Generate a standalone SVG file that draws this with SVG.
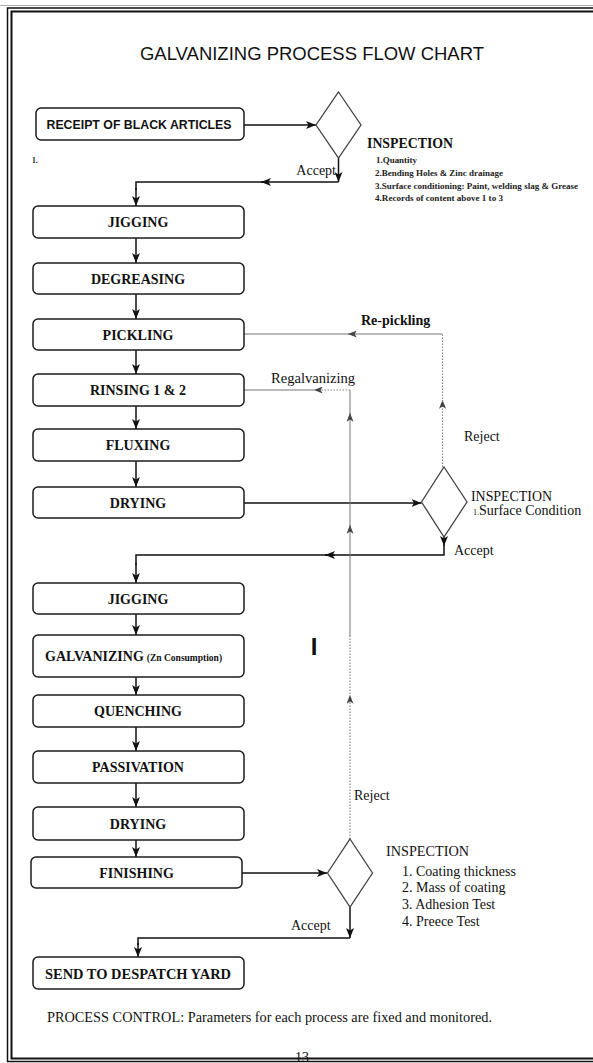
<svg xmlns="http://www.w3.org/2000/svg" width="593" height="1063" viewBox="0 0 593 1063">
  <style>
    .box { fill: #fff; stroke: #1c1c1c; stroke-width: 1.5; }
    .dia { fill: #fff; stroke: #444; stroke-width: 1.3; }
    .lbl { font-family: "Liberation Serif", "Times New Roman", serif; font-weight: bold; font-size: 14px; fill: #111; text-anchor: middle; }
    .lbl-start { font-family: "Liberation Serif", "Times New Roman", serif; font-weight: bold; font-size: 14px; fill: #111; text-anchor: start; }
    .note { font-family: "Liberation Serif", "Times New Roman", serif; font-size: 14px; fill: #111; }
    .small { font-family: "Liberation Serif", "Times New Roman", serif; font-weight: bold; font-size: 7.5px; fill: #222; }
    .flow { stroke: #111; stroke-width: 1.5; fill: none; }
    .fb { stroke: #777; stroke-width: 1; fill: none; }
    .dot { stroke: #888; stroke-width: 1.2; stroke-dasharray: 1.5 1.5; fill: none; }
    .frame { stroke: #111; fill: none; }
  </style>
  <defs>
    <marker id="ah" viewBox="0 0 10 8" refX="10" refY="4" markerWidth="10" markerHeight="8" markerUnits="userSpaceOnUse" orient="auto">
      <path d="M0,0 L10,4 L0,8 L2.5,4 z" fill="#111"/>
    </marker>
    <marker id="ahg" viewBox="0 0 10 8" refX="10" refY="4" markerWidth="10" markerHeight="7" markerUnits="userSpaceOnUse" orient="auto">
      <path d="M0,0 L10,4 L0,8 L2.5,4 z" fill="#444"/>
    </marker>
  </defs>

  <rect width="593" height="1063" fill="#fff"/>

  <!-- page title -->
  <text x="312" y="60" font-family="'Liberation Sans', Arial, sans-serif" font-size="18" fill="#111" text-anchor="middle" textLength="344" lengthAdjust="spacingAndGlyphs">GALVANIZING PROCESS FLOW CHART</text>

  <!-- connectors -->
  <g id="connectors">
    <!-- receipt to first inspection -->
    <line class="flow" x1="244" y1="125" x2="316" y2="125" marker-end="url(#ah)"/>
    <line class="flow" x1="338.5" y1="158" x2="338.5" y2="182" marker-end="url(#ah)"/>
    <line class="flow" x1="338.5" y1="182" x2="261" y2="182" marker-end="url(#ah)"/>
    <polyline class="flow" points="264,182 136,182 136,190"/>
    <line class="flow" x1="136" y1="188" x2="136" y2="206" marker-end="url(#ah)"/>
    <!-- main column, first half -->
    <line class="flow" x1="136" y1="238" x2="136" y2="263" marker-end="url(#ah)"/>
    <line class="flow" x1="136" y1="294" x2="136" y2="319" marker-end="url(#ah)"/>
    <line class="flow" x1="136" y1="350" x2="136" y2="374" marker-end="url(#ah)"/>
    <line class="flow" x1="136" y1="406" x2="136" y2="429" marker-end="url(#ah)"/>
    <line class="flow" x1="136" y1="461" x2="136" y2="487" marker-end="url(#ah)"/>
    <!-- drying to surface inspection -->
    <line class="flow" x1="244" y1="503" x2="421.5" y2="503" marker-end="url(#ah)"/>
    <line class="flow" x1="444" y1="535" x2="444" y2="546" marker-end="url(#ah)"/>
    <polyline class="flow" points="444,545 444,555 325,555"/>
    <line class="flow" x1="335" y1="555" x2="325" y2="555" marker-end="url(#ah)"/>
    <polyline class="flow" points="327,555 136,555 136,565"/>
    <line class="flow" x1="136" y1="563" x2="136" y2="583" marker-end="url(#ah)"/>
    <!-- main column, second half -->
    <line class="flow" x1="136" y1="614" x2="136" y2="635" marker-end="url(#ah)"/>
    <line class="flow" x1="136" y1="677" x2="136" y2="695" marker-end="url(#ah)"/>
    <line class="flow" x1="136" y1="727" x2="136" y2="751" marker-end="url(#ah)"/>
    <line class="flow" x1="136" y1="783" x2="136" y2="807" marker-end="url(#ah)"/>
    <line class="flow" x1="136" y1="840" x2="136" y2="857" marker-end="url(#ah)"/>
    <!-- finishing to final inspection -->
    <line class="flow" x1="242" y1="873" x2="327" y2="873" marker-end="url(#ah)"/>
    <line class="flow" x1="350" y1="907" x2="350" y2="938" marker-end="url(#ah)"/>
    <polyline class="flow" points="350,938 138,938 138,945"/>
    <line class="flow" x1="138" y1="943" x2="138" y2="957" marker-end="url(#ah)"/>

    <!-- re-pickling return -->
    <line class="dot" x1="442.5" y1="467" x2="442.5" y2="400" marker-end="url(#ahg)"/>
    <line class="dot" x1="442.5" y1="402" x2="442.5" y2="334"/>
    <line class="fb" x1="442.5" y1="334" x2="348" y2="334" marker-end="url(#ahg)"/>
    <line class="fb" x1="350" y1="334" x2="244" y2="334"/>

    <!-- regalvanizing return -->
    <line class="dot" x1="350" y1="839" x2="350" y2="695" marker-end="url(#ahg)"/>
    <line class="dot" x1="350" y1="697" x2="350" y2="635"/>
    <line class="fb" x1="350" y1="636" x2="350" y2="525" marker-end="url(#ahg)"/>
    <line class="fb" x1="350" y1="527" x2="350" y2="413" marker-end="url(#ahg)"/>
    <line class="fb" x1="350" y1="415" x2="350" y2="390"/>
    <line class="dot" x1="350" y1="390" x2="314" y2="390" marker-end="url(#ahg)"/>
    <line class="fb" x1="316" y1="390" x2="244" y2="390"/>
  </g>

  <!-- receipt -->
  <g id="n-receipt">
    <rect class="box" x="36" y="108" width="208" height="32" rx="5"/>
    <text x="139" y="129" font-family="'Liberation Sans', Arial, sans-serif" font-weight="bold" font-size="12.5" fill="#111" text-anchor="middle" textLength="185" lengthAdjust="spacingAndGlyphs">RECEIPT OF BLACK ARTICLES</text>
  </g>
  <text class="small" x="32" y="163">1.</text>

  <!-- incoming inspection -->
  <g id="n-inspect-1">
    <polygon class="dia" points="338.5,92 361,125 338.5,158 316,125"/>
    <text x="367" y="148" font-family="'Liberation Serif', 'Times New Roman', serif" font-weight="bold" font-size="15" fill="#111" textLength="86" lengthAdjust="spacingAndGlyphs">INSPECTION</text>
    <text class="small" x="376" y="163" textLength="41" lengthAdjust="spacingAndGlyphs">1.Quantity</text>
    <text class="small" x="375" y="176" textLength="128" lengthAdjust="spacingAndGlyphs">2.Bending Holes &amp; Zinc drainage</text>
    <text class="small" x="375" y="189" textLength="203" lengthAdjust="spacingAndGlyphs">3.Surface conditioning: Paint, welding slag &amp; Grease</text>
    <text class="small" x="375" y="201" textLength="128" lengthAdjust="spacingAndGlyphs">4.Records of content above 1 to 3</text>
  </g>
  <text class="note" x="336" y="175" text-anchor="end">Accept</text>

  <g id="n-jigging-1">
    <rect class="box" x="33" y="206" width="211" height="32" rx="5"/>
    <text class="lbl" x="138" y="227">JIGGING</text>
  </g>
  <g id="n-degreasing">
    <rect class="box" x="33" y="263" width="211" height="31" rx="5"/>
    <text class="lbl" x="138" y="283.5">DEGREASING</text>
  </g>
  <g id="n-pickling">
    <rect class="box" x="33" y="319" width="211" height="31" rx="5"/>
    <text class="lbl" x="138" y="339.5">PICKLING</text>
  </g>
  <g id="n-rinsing">
    <rect class="box" x="33" y="374" width="211" height="32" rx="5"/>
    <text class="lbl" x="138" y="395">RINSING 1 &amp; 2</text>
  </g>
  <g id="n-fluxing">
    <rect class="box" x="33" y="429" width="211" height="32" rx="5"/>
    <text class="lbl" x="138" y="450">FLUXING</text>
  </g>
  <g id="n-drying-1">
    <rect class="box" x="33" y="487" width="211" height="31" rx="5"/>
    <text class="lbl" x="138" y="507.5">DRYING</text>
  </g>

  <!-- surface inspection -->
  <g id="n-inspect-2">
    <polygon class="dia" points="444,467 467,502 444,537 421.5,502"/>
    <text class="note" x="471" y="501" textLength="81" lengthAdjust="spacingAndGlyphs">INSPECTION</text>
    <text class="note" x="473" y="515" font-size="12"><tspan font-size="8">1.</tspan>Surface Condition</text>
  </g>
  <text class="note" x="454" y="555">Accept</text>
  <text class="note" x="464" y="441">Reject</text>
  <text x="361" y="325" font-family="'Liberation Serif', 'Times New Roman', serif" font-weight="bold" font-size="14" fill="#111">Re-pickling</text>
  <text class="note" x="271" y="383" textLength="84" lengthAdjust="spacingAndGlyphs">Regalvanizing</text>

  <g id="n-jigging-2">
    <rect class="box" x="33" y="583" width="211" height="31" rx="5"/>
    <text class="lbl" x="138" y="603.5">JIGGING</text>
  </g>
  <g id="n-galvanizing">
    <rect class="box" x="33" y="635" width="211" height="42" rx="5"/>
    <text class="lbl-start" x="45" y="661">GALVANIZING<tspan font-size="9.5" dx="3">(Zn Consumption)</tspan></text>
  </g>
  <g id="n-quenching">
    <rect class="box" x="33" y="695" width="211" height="32" rx="5"/>
    <text class="lbl" x="138" y="716">QUENCHING</text>
  </g>
  <g id="n-passivation">
    <rect class="box" x="33" y="751" width="211" height="32" rx="5"/>
    <text class="lbl" x="138" y="772">PASSIVATION</text>
  </g>
  <g id="n-drying-2">
    <rect class="box" x="33" y="807" width="211" height="33" rx="5"/>
    <text class="lbl" x="138" y="828.5">DRYING</text>
  </g>
  <g id="n-finishing">
    <rect class="box" x="31" y="857" width="211" height="31" rx="5"/>
    <text class="lbl" x="136.5" y="877.5">FINISHING</text>
  </g>

  <text x="314" y="655" font-family="'Liberation Sans', Arial, sans-serif" font-weight="bold" font-size="24" fill="#111" text-anchor="middle">I</text>
  <text class="note" x="354" y="800">Reject</text>

  <!-- final inspection -->
  <g id="n-inspect-3">
    <polygon class="dia" points="350,839 372.5,873 350,907 327.5,873"/>
    <text class="note" x="386" y="856" textLength="83" lengthAdjust="spacingAndGlyphs">INSPECTION</text>
    <text class="note" x="402" y="876" font-size="13">1. Coating thickness</text>
    <text class="note" x="402" y="892" font-size="13">2. Mass of coating</text>
    <text class="note" x="402" y="909" font-size="13">3. Adhesion Test</text>
    <text class="note" x="402" y="926" font-size="13">4. Preece Test</text>
  </g>
  <text class="note" x="291" y="930">Accept</text>

  <g id="n-despatch">
    <rect class="box" x="33" y="957" width="211" height="32" rx="5"/>
    <text class="lbl" x="138" y="979" textLength="186" lengthAdjust="spacingAndGlyphs">SEND TO DESPATCH YARD</text>
  </g>

  <text class="note" x="47" y="1022" font-size="13" textLength="445" lengthAdjust="spacingAndGlyphs">PROCESS  CONTROL: Parameters for each process are fixed and monitored.</text>
  <text class="note" x="302" y="1062" font-size="13" text-anchor="middle">13</text>

  <!-- page frame (double rule, open on the right) -->
  <g id="frame">
    <path class="frame" d="M600,8 H7.5 V1061.5 H600" stroke-width="1.5"/>
    <path class="frame" d="M600,11.5 H11.5 V1058.5 H600" stroke-width="2"/>
    <line x1="0" y1="5.5" x2="600" y2="5.5" stroke="#aaa" stroke-width="1"/>
  </g>
</svg>
